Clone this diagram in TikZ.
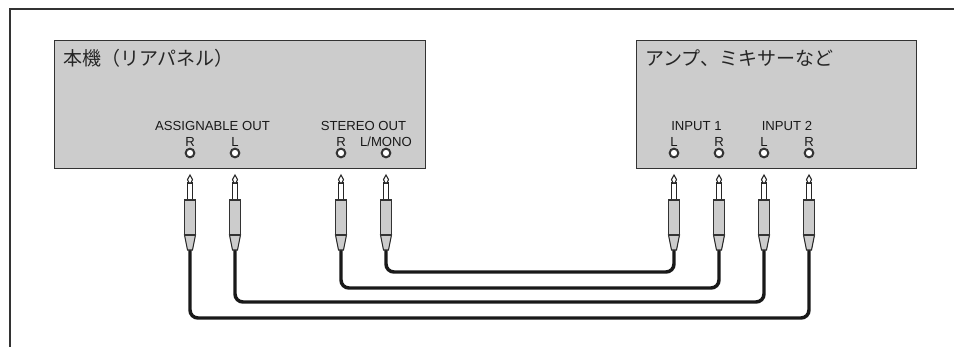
\documentclass[tikz,border=0pt]{standalone}
\usepackage{fontspec}
\setmainfont{Liberation Sans}
\newfontfamily\jpfont{Noto Sans CJK JP}
\usetikzlibrary{positioning, calc}
\definecolor{panelgray}{HTML}{CCCCCC}
\definecolor{edgegray}{HTML}{333333}
\tikzset{
    panel/.style={draw=edgegray, fill=panelgray, line width=1.1pt, rectangle, anchor=north west, inner sep=0pt},
    jack/.style={draw=edgegray, fill=white, line width=1.5pt, circle, minimum size=6.5pt, inner sep=0pt},
    lbl/.style={anchor=base, inner sep=0pt, font=\fontsize{9.85pt}{10pt}\selectfont, text=black!90},
    title/.style={anchor=west, inner sep=0pt, font=\jpfont\fontsize{14.25pt}{15pt}\selectfont, text=black!85},
    cable/.style={draw=black!90, line width=2.6pt, rounded corners=6pt},
    plugline/.style={draw=black!85, line width=0.8pt}
}
\begin{document}
\begin{tikzpicture}[x=0.75pt, y=-0.75pt]
    \useasboundingbox (0,0) rectangle (954,347);
    \draw[draw=edgegray, line width=0.8pt] (954,9) -- (10,9) -- (10,347);

    \node[panel, minimum width=278.25pt, minimum height=96pt] (rear) at (54,40) {};
    \node[panel, minimum width=210pt, minimum height=96pt] (amp) at (636,40) {};
    \node[title] (reartitle) at (63,58) {本機（リアパネル）};
    \node[title] (amptitle) at (645,58) {アンプ、ミキサーなど};

    \node[lbl] (assignout) at (212.5,130) {ASSIGNABLE OUT};
    \node[lbl] (stereoout) at (363.5,130) {STEREO OUT};
    \node[lbl] (inputone) at (696.5,130) {INPUT 1};
    \node[lbl] (inputtwo) at (787,130) {INPUT 2};

    \foreach \n/\xx/\t in {a/190/R, b/235/L, c/341/R, d/386/L\slash MONO, e/674/L, f/719/R, g/764/L, h/809/R} {
        \node[jack] (jack\n) at (\xx,153) {};
        \node[lbl] (lbl\n) at (\xx,146) {\t};
        \coordinate (tail\n) at (\xx,250);
    }

    \coordinate (rund) at (530,272);
    \coordinate (runc) at (530,288);
    \coordinate (runb) at (500,302);
    \coordinate (runa) at (500,318);
    \draw[cable] (taild) |- (rund) -| (taile);
    \draw[cable] (tailc) |- (runc) -| (tailf);
    \draw[cable] (tailb) |- (runb) -| (tailg);
    \draw[cable] (taila) |- (runa) -| (tailh);

    \foreach \n/\xx in {a/190, b/235, c/341, d/386, e/674, f/719, g/764, h/809} {
        \draw[plugline, fill=panelgray] (\xx-5.5,235) -- (\xx-2.5,250) -- (\xx+2.5,250) -- (\xx+5.5,235) -- cycle;
        \draw[plugline, fill=white] (\xx-2.5,200) -- (\xx-2.5,183) -- (\xx+2.5,183) -- (\xx+2.5,200) -- cycle;
        \draw[plugline, fill=white] (\xx-1,183) -- (\xx-2.5,179.5) -- (\xx,175) -- (\xx+2.5,179.5) -- (\xx+1,183) -- cycle;
        \draw[edgegray, line width=1.1pt, fill=panelgray] (\xx-5.75,200) rectangle (\xx+5.75,235);
    }
\end{tikzpicture}
\end{document}
